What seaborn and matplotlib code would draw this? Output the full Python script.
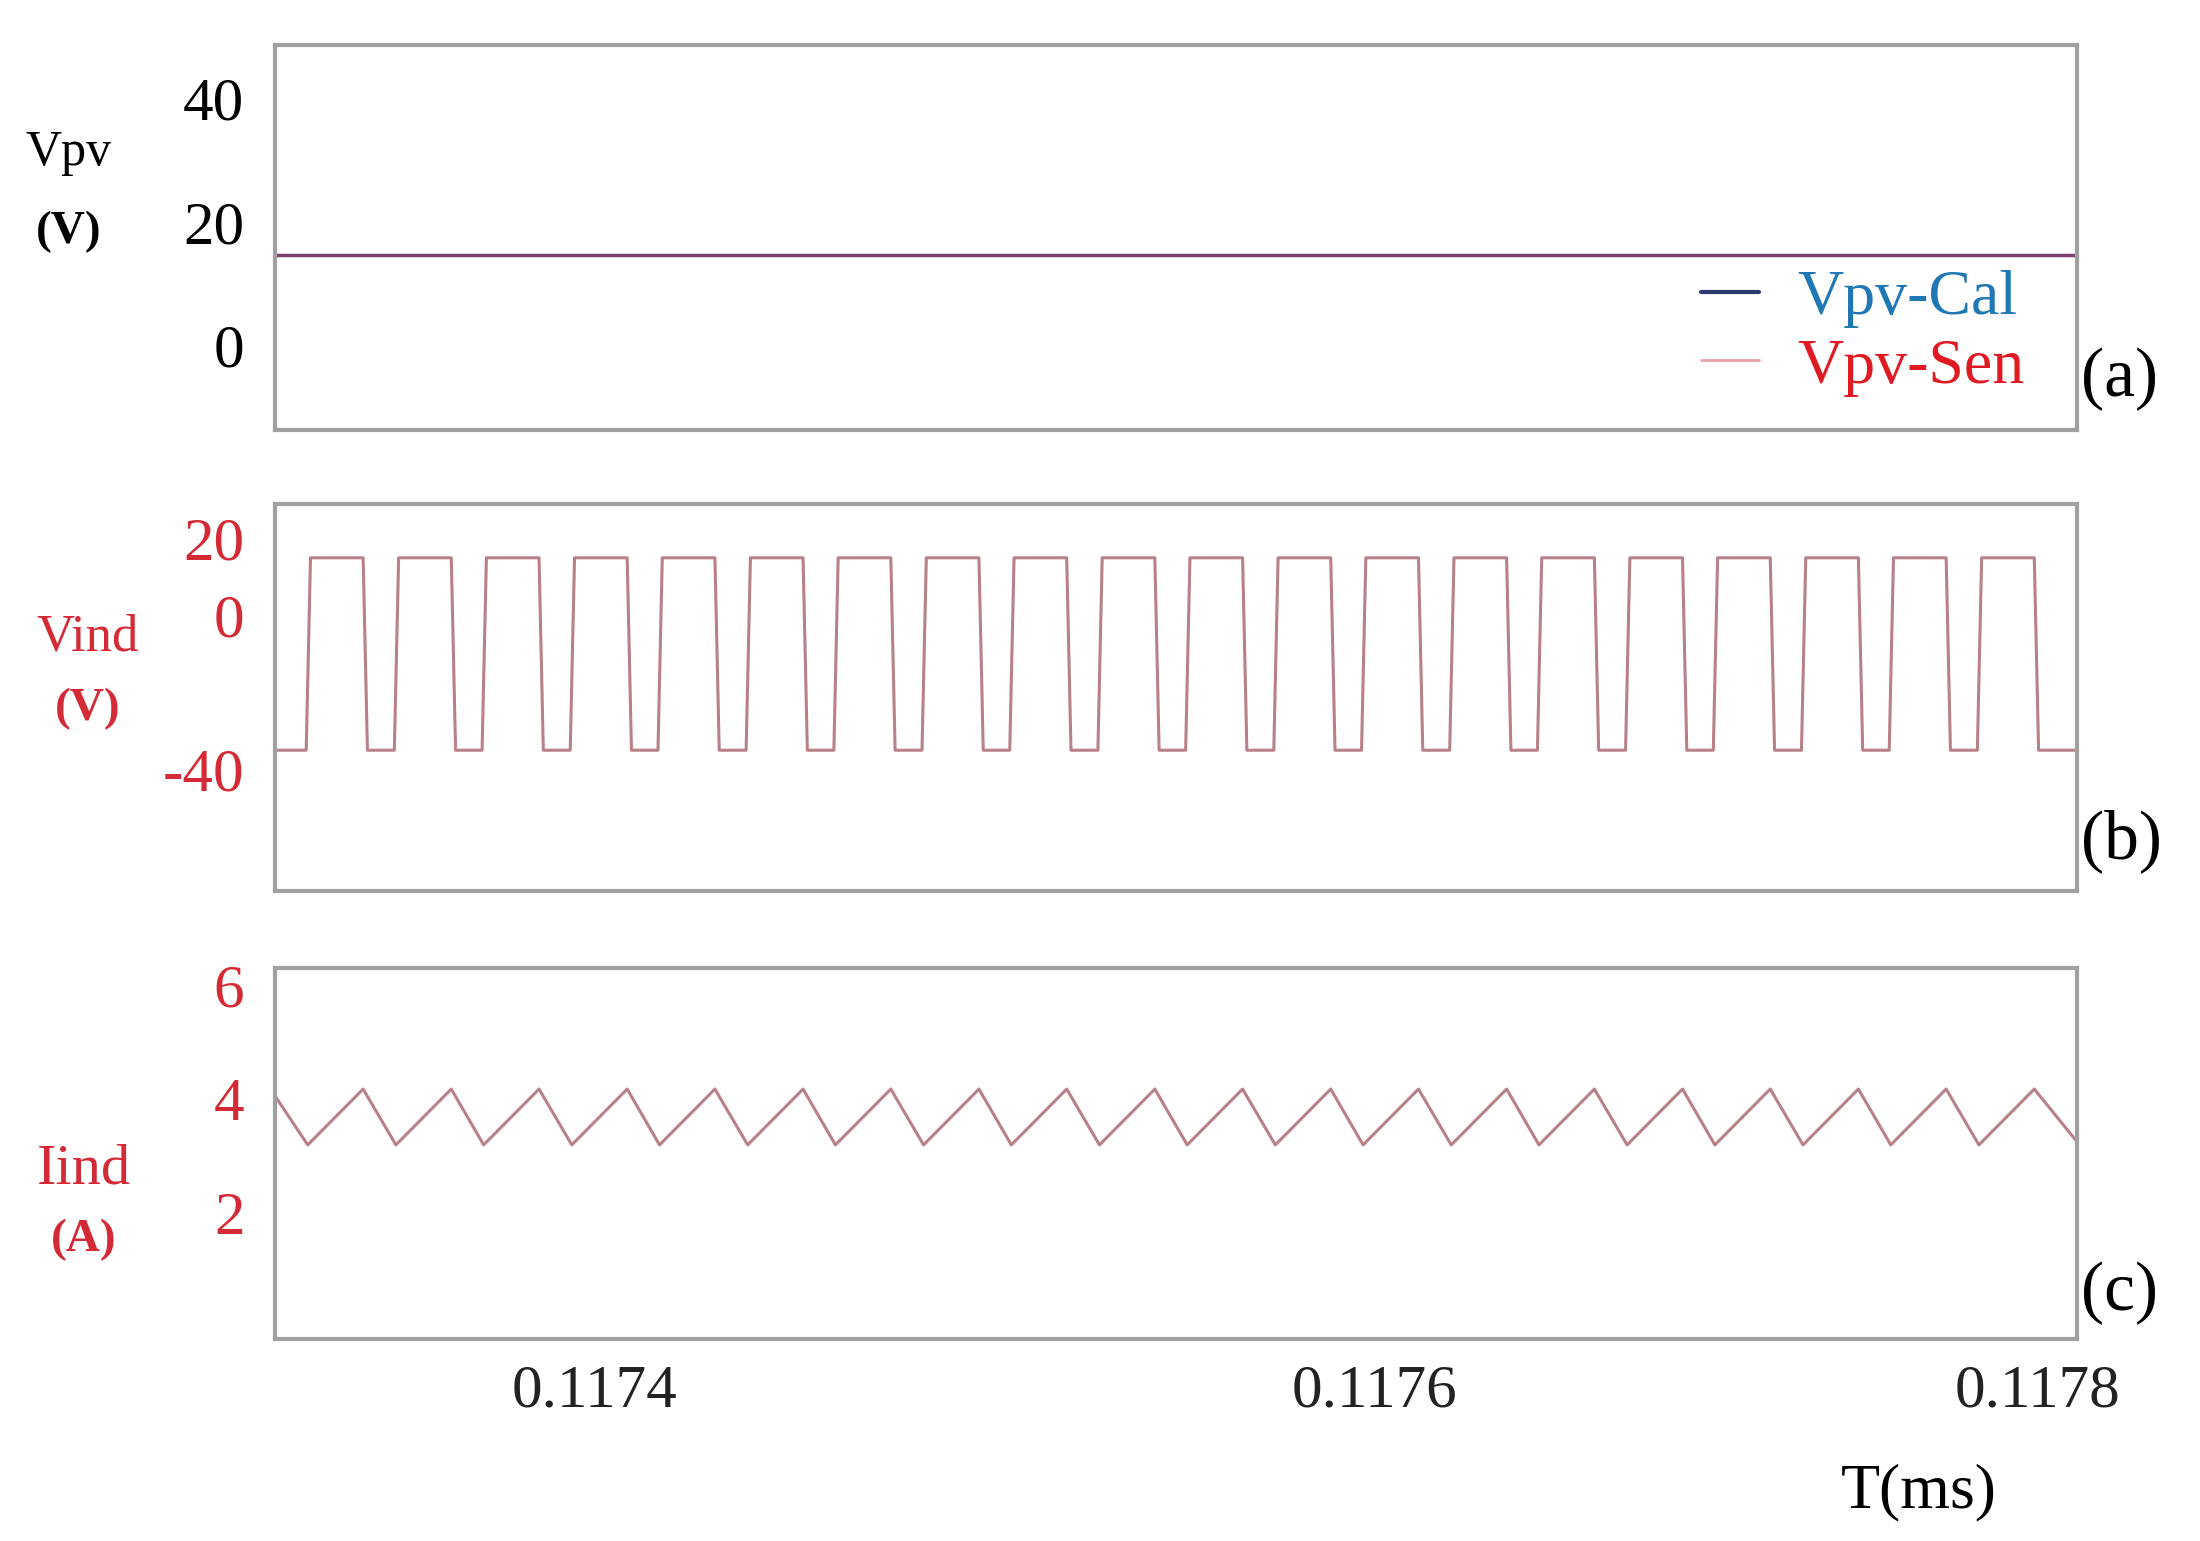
import matplotlib
matplotlib.use("Agg")
import matplotlib.pyplot as plt
import seaborn as sns
import pandas as pd
from matplotlib.lines import Line2D

sns.set_theme(style="white")
plt.rcParams['font.family'] = ['Liberation Serif', 'DejaVu Serif']
plt.rcParams['axes.unicode_minus'] = False

# ---- data (ms) ----
t_start, t_end = 0.117318, 0.117780
vpv_level = 14.7
rise_starts = [0.1173260, 0.1173486, 0.1173711, 0.1173937, 0.1174162, 0.1174388, 0.1174613,
               0.1174839, 0.1175064, 0.1175290, 0.1175515, 0.1175741, 0.1175966, 0.1176192,
               0.1176417, 0.1176643, 0.1176868, 0.1177094, 0.1177319, 0.1177545]
rise_dur, high_dur, fall_dur = 0.0000011, 0.0000135, 0.0000011
v_high, v_low, v_init = 15.0, -35.0, 0.0
i_peak, i_valley, i_init, i_final = 4.17, 3.19, 4.05, 3.25
xtick_pos = [0.1174, 0.1176, 0.117770]
xtick_labels = ["0.1174", "0.1176", "0.1178"]

tv = [t_start, t_start]
vv = [v_init, v_low]
ti = [t_start]
ii = [i_init]
for r in rise_starts:
    tv += [r, r + rise_dur, r + rise_dur + high_dur, r + rise_dur + high_dur + fall_dur]
    vv += [v_low, v_high, v_high, v_low]
    ti += [r + 0.0000004, r + rise_dur + high_dur]
    ii += [i_valley, i_peak]
tv.append(t_end); vv.append(v_low)
ti.append(t_end); ii.append(i_final)

df_v = pd.DataFrame({"t": tv, "v": vv, "u": 0})
df_i = pd.DataFrame({"t": ti, "i": ii, "u": 0})
df_pv = pd.DataFrame({"t": [t_start, t_end], "v": [vpv_level, vpv_level]})

fig = plt.figure(figsize=(22, 15.41), dpi=100)
L, W = 0.125, 0.819
axa = fig.add_axes([L, 0.721, W, 0.250])
axb = fig.add_axes([L, 0.422, W, 0.251])
axc = fig.add_axes([L, 0.131, W, 0.241])

red = "#d42a35"
trace = "#b88088"
sns.lineplot(data=df_pv, x="t", y="v", ax=axa, color="#7a3f6e", lw=2.5)
sns.lineplot(data=df_v, x="t", y="v", units="u", ax=axb, color=trace, lw=2.2, estimator=None, sort=False)
sns.lineplot(data=df_i, x="t", y="i", units="u", ax=axc, color=trace, lw=2.2, estimator=None, sort=False)

axa.set_ylim(-13.7, 48.7); axa.set_yticks([0, 20, 40])
axb.set_ylim(-71.5, 29); axb.set_yticks([-40, 0, 20])
axc.set_ylim(-0.22, 6.3); axc.set_yticks([2, 4, 6])

for ax, col in [(axa, "black"), (axb, red), (axc, red)]:
    ax.set_xlabel(""); ax.set_ylabel("")
    for s in ax.spines.values():
        s.set_color("#a0a0a0"); s.set_linewidth(3)
    ax.tick_params(axis="y", length=0, labelsize=44, labelcolor=col, pad=22)
    ax.tick_params(axis="x", length=0)
    ax.set_xticks([])

axc.set_xticks(xtick_pos)
axc.set_xticklabels(xtick_labels)
axc.tick_params(axis="x", labelsize=44, labelcolor="#222222", pad=18)
for ax in (axa, axb, axc):
    ax.set_xlim(t_start, t_end)

fig.text(0.031, 0.893, "Vpv", fontsize=36, ha="center", color="black")
fig.text(0.031, 0.842, "(V)", fontsize=34, ha="center", color="black", fontweight="bold")
fig.text(0.040, 0.578, "Vind", fontsize=38, ha="center", color=red)
fig.text(0.040, 0.533, "(V)", fontsize=34, ha="center", color=red, fontweight="bold")
fig.text(0.038, 0.232, "Iind", fontsize=42, ha="center", color=red)
fig.text(0.038, 0.188, "(A)", fontsize=34, ha="center", color=red, fontweight="bold")

for y, lab in [(0.743, "(a)"), (0.443, "(b)"), (0.150, "(c)")]:
    fig.text(0.946, y, lab, fontsize=50, color="black")

fig.text(0.872, 0.022, "T(ms)", fontsize=46, color="black", ha="center")

h = [Line2D([], [], color="#2c3a6e", lw=3), Line2D([], [], color="#e8a0a8", lw=2)]
leg = axa.legend(h, ["Vpv-Cal", "Vpv-Sen"], loc="lower right", frameon=False,
                 fontsize=46, handlelength=0.9, handletextpad=0.6, borderaxespad=0.0,
                 labelspacing=0.15, bbox_to_anchor=(0.985, 0.02))
leg.get_texts()[0].set_color("#1f78b4")
leg.get_texts()[1].set_color("#e01a22")

fig.savefig("out.png", dpi=100)
